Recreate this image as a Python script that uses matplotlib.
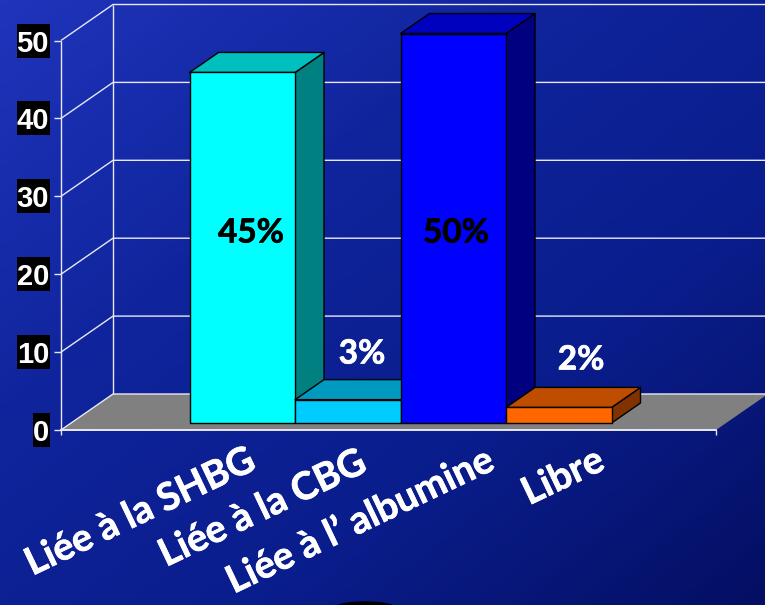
import numpy as np
import matplotlib
matplotlib.use("Agg")
import matplotlib.pyplot as plt
import matplotlib.patheffects as pe
from matplotlib.colors import LinearSegmentedColormap
from matplotlib.patches import Polygon, Ellipse, Rectangle

categories = ["Liée à la SHBG", "Liée à la CBG", "Liée à l’ albumine", "Libre"]
values = [45, 3, 50, 2]
value_labels = ["45%", "3%", "50%", "2%"]
ticks = [0, 10, 20, 30, 40, 50]

front_colors = ["#00ffff", "#00ccff", "#0000ff", "#ff6600"]
top_colors = ["#00bfbf", "#0099bf", "#0000bf", "#bf4d00"]
side_colors = ["#008080", "#006680", "#000080", "#803300"]
label_colors = ["black", "white", "black", "white"]

W, H = 765, 605
fig = plt.figure(figsize=(7.65, 6.05), dpi=100)
ax = fig.add_axes([0, 0, 1, 1])

# one category = 105.5 px, one unit = 7.79 px, x=0 y=0 is the front left floor corner
px_x = 105.5
px_y = 7.79
x0, y0 = 61, 430
ax.set_xlim(-x0 / px_x, (W - x0) / px_x)
ax.set_ylim(-(H - y0) / px_y, y0 / px_y)
ax.axis("off")

# depth direction of the fake 3d box
dx = 52 / px_x
dy = 36 / px_y

def proj(x, y, z):
    return (x + z * dx, y + z * dy)

# background gradient
gx, gy = np.meshgrid(np.linspace(0, 1, 200), np.linspace(0, 1, 200))
grad = (gx * 0.5 + gy * 0.5)
cmap = LinearSegmentedColormap.from_list("bg", ["#1f34bb", "#10259d", "#0a1d8c", "#040f63"])
ax.imshow(grad, extent=ax.get_xlim() + ax.get_ylim(), origin="upper", cmap=cmap,
          aspect="auto", zorder=0)
ax.add_patch(Ellipse((365 / px_x - x0 / px_x, -(608 - y0) / px_y), 60 / px_x, 12 / px_y,
                     color="black", zorder=1))

# floor and walls
x_end = (716 - x0) / px_x
ax.add_patch(Polygon([proj(0, 0, 0), proj(0, 0, 1), proj(x_end, 0, 1), proj(x_end, 0, 0)],
                     facecolor="#808080", edgecolor="none", zorder=1))
wall = dict(color="#e8e8f4", lw=1.0, zorder=2, solid_capstyle="butt")
for t in ticks:
    a, b = proj(0, t, 0), proj(0, t, 1)
    c = proj(x_end, t, 1)
    ax.plot([a[0], b[0], c[0]], [a[1], b[1], c[1]], **wall)
    ax.plot([-7 / px_x, 0], [t, t], **wall)
    # black box behind each tick label
    box_w = 33 if t > 0 else 17
    ax.add_patch(Rectangle((-11 / px_x - box_w / px_x, t - 17 / px_y), box_w / px_x, 34 / px_y,
                           facecolor="black", edgecolor="none", zorder=4))
    ax.text(-12 / px_x, t, str(t), color="white", fontsize=21, fontweight="bold",
            family="Liberation Sans", ha="right", va="center_baseline", zorder=5)
ax.plot([0, 0], [-5 / px_y, 50], **wall)
ax.plot([dx, dx], [dy, 50 + dy], **wall)
ax.plot([0, x_end], [0, 0], color="#e8e8f4", lw=1.4, zorder=2)
ax.plot([x_end, x_end], [-5 / px_y, 0], **wall)

# bars
z1, z2 = 7 / 36, 27 / 36
bar_w = 1.0
left = (189.5 - 10 - x0) / px_x
for i, v in enumerate(values):
    xa = left + i * bar_w
    xb = xa + bar_w
    edge = dict(edgecolor="black", linewidth=1, zorder=3 + i * 0.1, joinstyle="round")
    ax.add_patch(Polygon([proj(xb, 0, z1), proj(xb, 0, z2), proj(xb, v, z2), proj(xb, v, z1)],
                         facecolor=side_colors[i], **edge))
    ax.add_patch(Polygon([proj(xa, v, z1), proj(xb, v, z1), proj(xb, v, z2), proj(xa, v, z2)],
                         facecolor=top_colors[i], **edge))
    ax.add_patch(Polygon([proj(xa, 0, z1), proj(xb, 0, z1), proj(xb, v, z1), proj(xa, v, z1)],
                         facecolor=front_colors[i], **edge))

# value labels, pixel spots from the picture
label_px = [(251, 233), (362, 354), (456, 233), (581, 360)]
for (lx, ly), s, c in zip(label_px, value_labels, label_colors):
    ax.text((lx - x0) / px_x, (y0 - ly) / px_y, s, color=c, fontsize=24, fontweight="bold",
            family="Lato", ha="center", va="center", zorder=6,
            path_effects=[pe.withStroke(linewidth=0.5, foreground=c)])

# category labels, right end anchored under each bar
cat_px = [(246, 443), (357, 445), (485, 443), (595, 443)]
for (lx, ly), s in zip(cat_px, categories):
    ax.text((lx - x0) / px_x, (y0 - ly) / px_y, s, color="white", fontsize=27.5, fontweight="bold",
            family="Lato", rotation=25.5, rotation_mode="anchor", ha="right", va="top", zorder=6,
            path_effects=[pe.withStroke(linewidth=0.5, foreground="white")])

fig.savefig("out.png", dpi=100)
